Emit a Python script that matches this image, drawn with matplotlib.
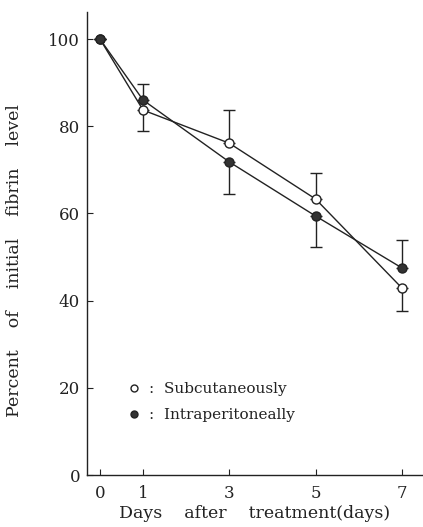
import matplotlib
matplotlib.use("Agg")
import matplotlib.pyplot as plt
from matplotlib.lines import Line2D

days = [0, 1, 3, 5, 7]
subcut = [100, 83.7, 76.1, 63.3, 42.9]
subcut_err_low = [0, 4.8, 0, 0, 5.3]
subcut_err_high = [0, 0, 7.6, 6.0, 0]
intra = [100, 86.0, 71.8, 59.4, 47.5]
intra_err_low = [0, 0, 7.4, 7.1, 0]
intra_err_high = [0, 3.7, 0, 0, 6.4]
yticks = [0, 20, 40, 60, 80, 100]
xticks = [0, 1, 3, 5, 7]

plt.rcParams['font.family'] = ['DejaVu Serif']

fig = plt.figure(figsize=(4.23, 5.27), dpi=100)
ax = fig.add_axes([87/423, 1-475/527, 1-87/423, (475-12)/527])

lc = '#222222'
ax.errorbar(days, subcut, yerr=[subcut_err_low, subcut_err_high], fmt='none',
            ecolor=lc, elinewidth=1.0, capsize=4, capthick=1.0, zorder=2)
ax.errorbar(days, intra, yerr=[intra_err_low, intra_err_high], fmt='none',
            ecolor=lc, elinewidth=1.0, capsize=4, capthick=1.0, zorder=2)
ax.plot(days, subcut, '-o', color=lc, lw=1.0, markersize=6.5,
        markerfacecolor='white', markeredgecolor=lc, markeredgewidth=1.0, zorder=3)
ax.plot(days, intra, '-o', color=lc, lw=1.0, markersize=6.5,
        markerfacecolor='#333333', markeredgecolor=lc, zorder=4)

ax.set_xlim(-0.30, 7.49)
ax.set_ylim(0, 106.2)
ax.set_xticks(xticks)
ax.set_yticks(yticks)
ax.tick_params(direction='in', length=4, width=0.8, labelsize=12, colors=lc, pad=5)
ax.tick_params(axis='x', pad=7)
ax.spines['top'].set_visible(False)
ax.spines['right'].set_visible(False)
for s in ['left', 'bottom']:
    ax.spines[s].set_linewidth(1.0)
    ax.spines[s].set_color(lc)

ax.set_xlabel('Days    after    treatment(days)', fontsize=12.5, color=lc, labelpad=2)
ax.set_ylabel('Percent    of    initial    fibrin    level', fontsize=12.5, color=lc)
ax.yaxis.set_label_coords(-0.19, 0.464)

handles = [Line2D([], [], marker='o', ls='none', markersize=5, markerfacecolor='white',
                  markeredgecolor=lc),
           Line2D([], [], marker='o', ls='none', markersize=5, markerfacecolor='#333333',
                  markeredgecolor=lc)]
ax.legend(handles, [':  Subcutaneously', ':  Intraperitoneally'], loc='lower left',
          bbox_to_anchor=(0.08, 0.085), frameon=False, fontsize=11, handlelength=0.8,
          handletextpad=0.6, labelspacing=0.75, labelcolor=lc)

fig.savefig('out.png', dpi=100)
